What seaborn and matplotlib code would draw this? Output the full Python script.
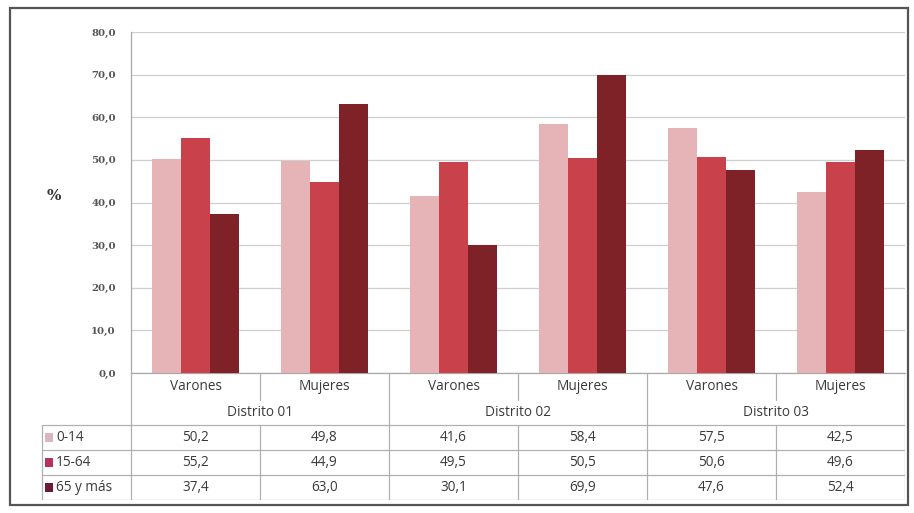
import matplotlib
matplotlib.use("Agg")
import matplotlib.pyplot as plt
from matplotlib.patches import Rectangle
import seaborn as sns
import pandas as pd

sexes = ["Varones", "Mujeres", "Varones", "Mujeres", "Varones", "Mujeres"]
districts = ["Distrito 01", "Distrito 02", "Distrito 03"]
groups = ["0-14", "15-64", "65 y más"]
v_0_14 = [50.2, 49.8, 41.6, 58.4, 57.5, 42.5]
v_15_64 = [55.2, 44.9, 49.5, 50.5, 50.6, 49.6]
v_65 = [37.4, 63.0, 30.1, 69.9, 47.6, 52.4]
yticks = [0, 10, 20, 30, 40, 50, 60, 70, 80]

bar_colors = ["#E6B3B6", "#C9414A", "#7E2228"]
legend_colors = ["#DDB5C0", "#B9305A", "#6B1C33"]

cats = [f"c{i}" for i in range(len(sexes))]
rows = []
for g, vals in zip(groups, [v_0_14, v_15_64, v_65]):
    for c, v in zip(cats, vals):
        rows.append({"cat": c, "grupo": g, "valor": v})
df = pd.DataFrame(rows)

sns.set_style("white")
W, H = 914, 513
fig = plt.figure(figsize=(W / 100, H / 100), dpi=100)

def fx(px):
    return px / W

def fy(py):
    return 1 - py / H

x0, x1 = 131, 905
y_top, y_bot = 32, 373
ax = fig.add_axes([fx(x0), fy(y_bot), fx(x1 - x0), (y_bot - y_top) / H])
sns.barplot(data=df, x="cat", y="valor", hue="grupo", order=cats, hue_order=groups,
            palette=bar_colors, width=0.67, saturation=1, ax=ax, legend=False,
            edgecolor="none", linewidth=0, zorder=3)
ax.set_xlim(-0.5, 5.5)
ax.set_ylim(0, 80)
ax.set_yticks(yticks)
ax.set_yticklabels([f"{t:.1f}".replace(".", ",") for t in yticks],
                   fontsize=7.3, fontweight="bold", family="DejaVu Serif", color="#555555")
ax.tick_params(axis="y", length=0, pad=11)
ax.set_xticks([])
ax.set_xlabel("")
ax.set_ylabel("")
ax.grid(axis="y", color="#CFCFCF", linewidth=0.9, zorder=0)
for s in ["top", "right"]:
    ax.spines[s].set_visible(False)
ax.spines["left"].set_color("#A8A8A8")
ax.spines["bottom"].set_color("#A8A8A8")
ax.spines["left"].set_linewidth(0.9)
ax.spines["bottom"].set_linewidth(0.9)
fig.text(fx(54), fy(196), "%", fontsize=11, fontweight="bold", ha="center", va="center",
         color="#333333", family="DejaVu Serif")

# Data table drawn in pixel coordinates below the axis
tx0, ty0, ty1 = 40, 373, 500
tab = fig.add_axes([fx(tx0), fy(ty1), fx(x1 - tx0), (ty1 - ty0) / H])
tab.set_xlim(tx0, x1)
tab.set_ylim(ty1, ty0)
tab.axis("off")
lc = "#B0B0B0"
lw = 0.9
colw = (x1 - x0) / len(sexes)
bounds = [x0 + i * colw for i in range(len(sexes) + 1)]

# vertical lines
for i, b in enumerate(bounds):
    if i in (0, 2, 4, 6):
        tab.plot([b, b], [373, 500], color=lc, lw=lw)
    else:
        tab.plot([b, b], [373, 400], color=lc, lw=lw)
        tab.plot([b, b], [425, 500], color=lc, lw=lw)
tab.plot([42, 42], [425, 500], color=lc, lw=lw)
for yy in [425, 450, 475, 500]:
    tab.plot([42, x1], [yy, yy], color=lc, lw=lw)

tfont = dict(family="Open Sans", fontsize=9.8, color="#3A3A3A")
for i, s in enumerate(sexes):
    tab.text(bounds[i] + colw / 2, 386, s, ha="center", va="center", **tfont)
for j, d in enumerate(districts):
    tab.text(bounds[2 * j] + colw, 412, d, ha="center", va="center", **tfont)
for r, (g, vals, lcol) in enumerate(zip(groups, [v_0_14, v_15_64, v_65], legend_colors)):
    yc = 437.5 + 25 * r
    tab.add_patch(Rectangle((45, yc - 4.5), 8, 9, color=lcol, lw=0))
    tab.text(56, yc, g, ha="left", va="center", **tfont)
    for i, v in enumerate(vals):
        tab.text(bounds[i] + colw / 2, yc, f"{v:.1f}".replace(".", ","),
                 ha="center", va="center", **tfont)

# outer frame
frame = fig.add_axes([0, 0, 1, 1], facecolor="none")
frame.set_xlim(0, W)
frame.set_ylim(H, 0)
frame.axis("off")
frame.add_patch(Rectangle((10, 8), 898, 497, fill=False, edgecolor="#555555", lw=1.6))

fig.savefig("out.png", dpi=100)
